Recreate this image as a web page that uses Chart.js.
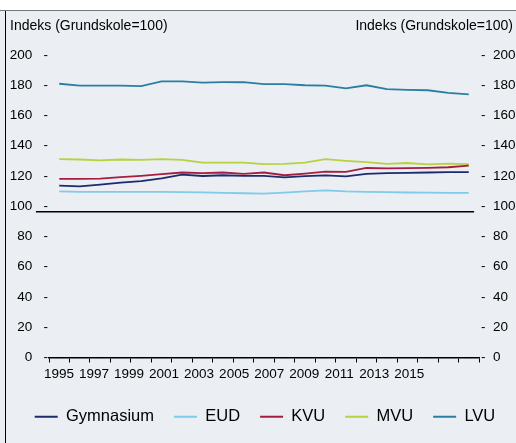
<!DOCTYPE html>
<html lang="da">
<head>
<meta charset="UTF-8">
<title>Indeks (Grundskole=100)</title>
<script src="https://cdn.jsdelivr.net/npm/chart.js"></script>
<style>
  html,body { margin:0; padding:0; background:#fff; }
  #wrap { width:516px; height:443px; position:relative; }
</style>
</head>
<body>
<div id="wrap"><canvas id="chart" width="516" height="443"></canvas></div>
<script>
// data
const years = [1995,1996,1997,1998,1999,2000,2001,2002,2003,2004,2005,2006,2007,2008,2009,2010,2011,2012,2013,2014,2015];
const gymnasium = [113.6,113.2,114.3,115.6,116.6,118.5,120.9,120.0,120.5,120.1,120.1,119.1,119.9,120.4,119.7,121.4,121.9,122.1,122.3,122.5,122.6];
const eud       = [109.9,109.5,109.5,109.5,109.5,109.5,109.3,109.2,108.8,108.6,108.3,109.0,109.9,110.5,109.8,109.5,109.3,109.1,109.0,108.8,108.8];
const kvu       = [118.1,118.1,118.3,119.2,120.1,121.2,122.3,121.9,122.3,121.4,122.3,120.5,121.6,122.9,122.7,125.3,125.0,125.2,125.4,125.8,126.9];
const mvu       = [131.1,130.9,130.3,130.9,130.7,131.1,130.7,128.9,128.9,128.9,127.9,128.0,128.9,131.1,130.0,129.2,128.0,128.6,127.7,128.2,127.9];
const lvu       = [181.0,179.8,179.8,179.8,179.4,182.5,182.5,181.8,182.0,182.0,180.8,180.7,180.0,179.8,178.0,180.0,177.4,177.0,176.7,175.0,174.0];
const labelYears = [1995,1997,1999,2001,2003,2005,2007,2009,2011,2013,2015];
const refLevel = 96.4;
const refFrom = 1993.86, refTo = 2015.26;

const axisTitle = 'Indeks (Grundskole=100)';
const FONT = "'Liberation Sans', Arial, sans-serif";

Chart.defaults.font.family = FONT;
Chart.defaults.color = '#000';

const pts = arr => years.map((y, i) => ({ x: y, y: arr[i] }));
const line = (label, arr, color) => ({
  label, data: pts(arr), borderColor: color, backgroundColor: color,
  borderWidth: 1.8, pointRadius: 0, tension: 0, xAxisID: 'x', yAxisID: 'y'
});

// frame + the two axis captions at the top
const framePlugin = {
  id: 'frame',
  afterLayout(c) {
    // legend sits a bit right of centre in the original
    if (c.legend) { c.legend.left += 7; c.legend.right += 7; }
  },
  beforeDraw(c) {
    const ctx = c.ctx;
    ctx.save();
    ctx.fillStyle = '#fff';
    ctx.fillRect(0, 0, c.width, c.height);
    ctx.fillStyle = '#ebeef3';
    ctx.fillRect(0, 11, c.width, c.height - 11);
    ctx.strokeStyle = '#777';
    ctx.lineWidth = 1;
    ctx.beginPath(); ctx.moveTo(0, 10.5); ctx.lineTo(c.width, 10.5); ctx.stroke();
    ctx.strokeStyle = '#000';
    ctx.beginPath(); ctx.moveTo(5.5, 11); ctx.lineTo(5.5, c.height); ctx.stroke();
    ctx.fillStyle = '#000';
    ctx.font = '14px ' + FONT;
    ctx.textBaseline = 'middle';
    ctx.textAlign = 'left';
    ctx.fillText(axisTitle, 10, 26);
    ctx.textAlign = 'right';
    ctx.fillText(axisTitle, 513, 26);
    ctx.restore();
  }
};

new Chart(document.getElementById('chart'), {
  type: 'line',
  data: {
    datasets: [
      line('Gymnasium', gymnasium, '#1c2b6b'),
      line('EUD', eud, '#7fcbe9'),
      line('KVU', kvu, '#a61d42'),
      line('MVU', mvu, '#b8d13d'),
      line('LVU', lvu, '#2b7ea0'),
      { label: '', data: [{ x: refFrom, y: refLevel }, { x: refTo, y: refLevel }],
        borderColor: '#000', borderWidth: 1.5, pointRadius: 0, clip: false,
        xAxisID: 'x', yAxisID: 'y' }
    ]
  },
  options: {
    responsive: false,
    animation: false,
    layout: { padding: { top: 55, left: 0, right: 0, bottom: 8 } },
    scales: {
      x: {
        type: 'linear', position: 'bottom', min: 1994.5, max: 2015.5,
        afterBuildTicks: s => { s.ticks = [years[0] - 0.5, ...years.map(y => y + 0.5)].map(v => ({ value: v })); },
        afterFit: s => { s.height = 9; },
        ticks: { display: false },
        grid: { drawOnChartArea: false, drawTicks: true, tickLength: 5, color: '#000', lineWidth: 1 },
        border: { display: true, color: '#000', width: 1.5 }
      },
      xl: {
        type: 'linear', position: 'bottom', min: 1994.43, max: 2018.98,
        afterBuildTicks: s => { s.ticks = labelYears.map(v => ({ value: v })); },
        afterFit: s => { s.height = 22; },
        ticks: { callback: v => String(v), font: { size: 13.5 }, padding: 0, maxRotation: 0, autoSkip: false },
        grid: { display: false, drawTicks: false },
        border: { display: false }
      },
      y: {
        position: 'left', min: 0, max: 200,
        afterFit: s => { s.width = 49; },
        ticks: { stepSize: 20, callback: v => v + '   -', font: { size: 13.5 }, padding: 1 },
        grid: { display: false, drawTicks: false },
        border: { display: false }
      },
      y2: {
        position: 'right', min: 0, max: 200,
        afterFit: s => { s.width = 37; },
        ticks: { stepSize: 20, callback: v => '-  ' + v, font: { size: 13.5 }, padding: 2 },
        grid: { display: false, drawTicks: false },
        border: { display: false }
      }
    },
    plugins: {
      legend: {
        position: 'bottom',
        maxHeight: 57,
        labels: {
          boxWidth: 23, boxHeight: 2, padding: 20,
          font: { size: 16.5 }, color: '#000',
          generateLabels: c => Chart.defaults.plugins.legend.labels.generateLabels(c)
            .filter(l => l.text)
            .map(l => ({ ...l, lineWidth: 0, fillStyle: l.strokeStyle }))
        }
      },
      tooltip: { enabled: false }
    }
  },
  plugins: [framePlugin]
});
</script>
</body>
</html>
